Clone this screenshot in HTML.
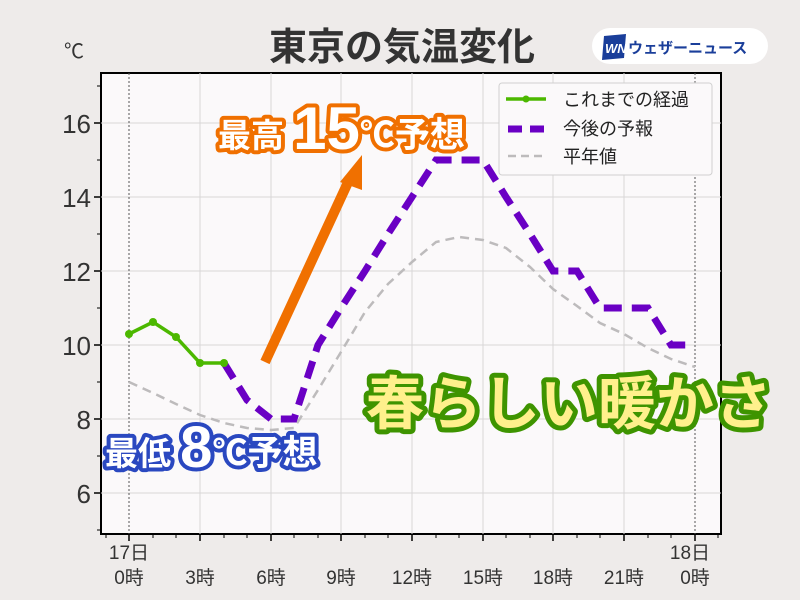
<!DOCTYPE html>
<html><head><meta charset="utf-8"><style>
body{margin:0;background:#eeebea;}
svg{display:block;font-family:"Liberation Sans","Noto Sans CJK JP",sans-serif;}
</style></head><body>
<svg width="800" height="600" viewBox="0 0 800 600">
<rect width="800" height="600" fill="#eeebea"/>
<text x="402" y="60" text-anchor="middle" font-size="38" font-weight="bold" fill="#333">東京の気温変化</text>
<text x="64" y="58" font-size="20" fill="#333">℃</text>
<rect x="592" y="28" width="176" height="36" rx="18" fill="#fff"/>
<polygon points="604,36 626,34 624,58 602,60" fill="#1a3e9a"/>
<text x="605" y="53" font-size="13" font-weight="bold" font-style="italic" fill="#fff">WN</text>
<text x="628" y="53" font-size="15" font-weight="bold" fill="#1a3e9a">ウェザーニュース</text>
<rect x="101" y="73" width="620" height="461" fill="#fbf9fa" stroke="#000" stroke-width="2"/>
<g stroke="#d8d6d7" stroke-width="1">
<line x1="101" x2="721" y1="123" y2="123"/><line x1="101" x2="721" y1="197" y2="197"/><line x1="101" x2="721" y1="271" y2="271"/><line x1="101" x2="721" y1="345" y2="345"/><line x1="101" x2="721" y1="419" y2="419"/><line x1="101" x2="721" y1="493" y2="493"/>
<line x1="200" x2="200" y1="73" y2="534"/><line x1="271" x2="271" y1="73" y2="534"/><line x1="341" x2="341" y1="73" y2="534"/><line x1="412" x2="412" y1="73" y2="534"/><line x1="483" x2="483" y1="73" y2="534"/><line x1="553" x2="553" y1="73" y2="534"/><line x1="624" x2="624" y1="73" y2="534"/>
</g>
<g stroke="#555" stroke-width="1" stroke-dasharray="2,2"><line x1="129" x2="129" y1="73" y2="534"/><line x1="695" x2="695" y1="73" y2="534"/></g>
<g stroke="#000" stroke-width="1.5">
<line x1="94" x2="101" y1="123" y2="123"/><line x1="94" x2="101" y1="197" y2="197"/><line x1="94" x2="101" y1="271" y2="271"/><line x1="94" x2="101" y1="345" y2="345"/><line x1="94" x2="101" y1="419" y2="419"/><line x1="94" x2="101" y1="493" y2="493"/>
<line x1="129" x2="129" y1="534" y2="541"/><line x1="200" x2="200" y1="534" y2="541"/><line x1="271" x2="271" y1="534" y2="541"/><line x1="341" x2="341" y1="534" y2="541"/><line x1="412" x2="412" y1="534" y2="541"/><line x1="483" x2="483" y1="534" y2="541"/><line x1="553" x2="553" y1="534" y2="541"/><line x1="624" x2="624" y1="534" y2="541"/><line x1="695" x2="695" y1="534" y2="541"/>
</g>
<g stroke="#000" stroke-width="1">
<line x1="97" x2="101" y1="86" y2="86"/><line x1="97" x2="101" y1="160" y2="160"/><line x1="97" x2="101" y1="234" y2="234"/><line x1="97" x2="101" y1="308" y2="308"/><line x1="97" x2="101" y1="382" y2="382"/><line x1="97" x2="101" y1="456" y2="456"/><line x1="97" x2="101" y1="530" y2="530"/>
<line x1="106" x2="106" y1="534" y2="538"/><line x1="153" x2="153" y1="534" y2="538"/><line x1="176" x2="176" y1="534" y2="538"/><line x1="224" x2="224" y1="534" y2="538"/><line x1="247" x2="247" y1="534" y2="538"/><line x1="294" x2="294" y1="534" y2="538"/><line x1="318" x2="318" y1="534" y2="538"/><line x1="365" x2="365" y1="534" y2="538"/><line x1="388" x2="388" y1="534" y2="538"/><line x1="436" x2="436" y1="534" y2="538"/><line x1="459" x2="459" y1="534" y2="538"/><line x1="506" x2="506" y1="534" y2="538"/><line x1="530" x2="530" y1="534" y2="538"/><line x1="577" x2="577" y1="534" y2="538"/><line x1="600" x2="600" y1="534" y2="538"/><line x1="648" x2="648" y1="534" y2="538"/><line x1="671" x2="671" y1="534" y2="538"/><line x1="718" x2="718" y1="534" y2="538"/>
</g>
<g font-size="26" fill="#333" text-anchor="end">
<text x="91" y="133">16</text><text x="91" y="207">14</text><text x="91" y="281">12</text><text x="91" y="355">10</text><text x="91" y="429">8</text><text x="91" y="503">6</text>
</g>
<g font-size="19" fill="#333" text-anchor="middle">
<text x="129" y="559">17日</text><text x="129" y="584">0時</text>
<text x="200" y="584">3時</text><text x="271" y="584">6時</text><text x="341" y="584">9時</text><text x="412" y="584">12時</text><text x="483" y="584">15時</text><text x="553" y="584">18時</text><text x="624" y="584">21時</text>
<text x="690" y="559">18日</text><text x="695" y="584">0時</text>
</g>
<polyline fill="none" stroke="#bdbbbc" stroke-width="2.5" stroke-dasharray="9,6" points="129,382 153,393 176,404 200,415 224,423 247,428 271,430 294,428 318,390 341,352 365,312 388,284 412,262 436,242 459,237 483,240 506,248 530,267 553,289 577,306 600,323 624,334 648,348 671,359 695,367"/>
<polyline fill="none" stroke="#6a00c4" stroke-width="7" stroke-dasharray="18,10" points="224,363 247,400 271,419 294,419 318,345 341,308 365,271 388,234 412,197 436,160 459,160 483,160 506,197 530,234 553,271 577,271 600,308 624,308 648,308 671,345 695,345"/>
<polyline fill="none" stroke="#4cb800" stroke-width="3.5" points="129,334 153,322 176,337 200,363 224,363"/>
<g fill="#4cb800"><circle cx="129" cy="334" r="4"/><circle cx="153" cy="322" r="4"/><circle cx="176" cy="337" r="4"/><circle cx="200" cy="363" r="4"/><circle cx="224" cy="363" r="4"/></g>
<rect x="499" y="83" width="213" height="92" rx="3" fill="#fbf9fa" stroke="#d0d0d0"/>
<line x1="506" x2="546" y1="99" y2="99" stroke="#4cb800" stroke-width="3.5"/><circle cx="526" cy="99" r="3.5" fill="#4cb800"/>
<line x1="508" x2="546" y1="129" y2="129" stroke="#6a00c4" stroke-width="7" stroke-dasharray="14,8"/>
<line x1="508" x2="546" y1="156" y2="156" stroke="#bdbbbc" stroke-width="2.5" stroke-dasharray="8,5"/>
<g font-size="18" fill="#222"><text x="563" y="106">これまでの経過</text><text x="563" y="135">今後の予報</text><text x="563" y="163">平年値</text></g>
<line x1="265" y1="362" x2="350" y2="178" stroke="#f07000" stroke-width="10"/>
<polygon points="362,155 340,182 362,190" fill="#f07000"/>
<g font-weight="bold" fill="#fff" stroke-linejoin="round" paint-order="stroke" stroke-width="8">
<text x="218" y="147" font-size="33" stroke="#f07000">最高 <tspan font-size="60" dy="2">15</tspan><tspan dy="-2" font-size="35">℃予想</tspan></text>
<text x="105" y="465" font-size="33" stroke="#2a48c0">最低 <tspan font-size="58" dy="2">8</tspan><tspan dy="-2" font-size="35">℃予想</tspan></text>
<text x="366" y="424" font-size="58" fill="#fff08c" stroke="#3e9400" stroke-width="10">春らしい暖かさ</text>
</g>
</svg>
</body></html>
